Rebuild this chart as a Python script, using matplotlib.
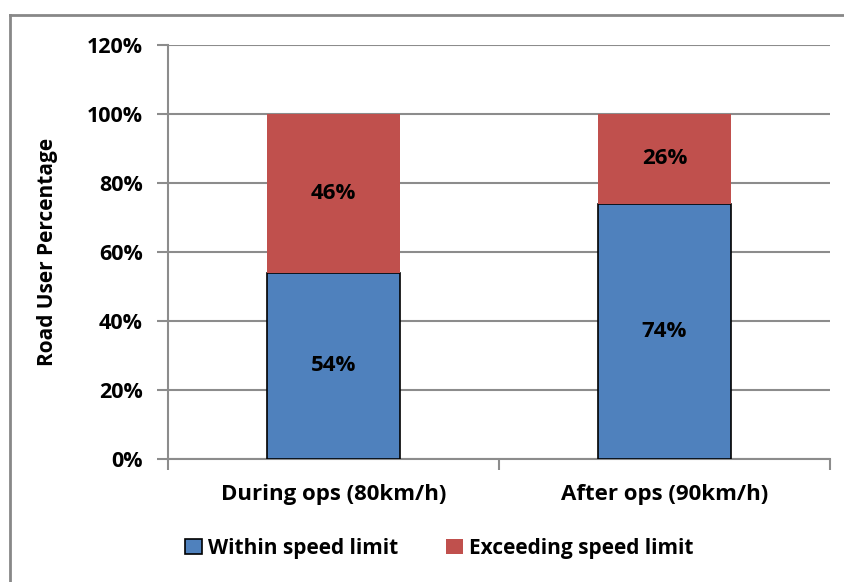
import matplotlib.pyplot as plt
from matplotlib.lines import Line2D

categories = ['During ops (80km/h)', 'After ops (90km/h)']
within = [54, 74]
exceeding = [46, 26]
yticks = [0, 20, 40, 60, 80, 100, 120]

plt.rcParams['font.family'] = ['Open Sans', 'DejaVu Sans']
plt.rcParams['font.weight'] = 'bold'

fig = plt.figure(figsize=(8.45, 5.82), dpi=100)
ax = fig.add_axes([0.1988, 0.2113, 0.9822 - 0.1988, 0.9227 - 0.2113])

grid_c = '#8c8c8c'
x = range(len(categories))
b1 = ax.bar(x, within, width=0.4, color='#4f81bd', edgecolor='black', linewidth=1.2,
            label='Within speed limit', zorder=3)
b2 = ax.bar(x, exceeding, width=0.4, bottom=within, color='#c0504d', edgecolor='none',
            label='Exceeding speed limit', zorder=3)

fs = 16
for i in x:
    ax.text(i, within[i] / 2, f'{within[i]}%', ha='center', va='center',
            fontsize=fs, fontweight='bold', zorder=4)
    ax.text(i, within[i] + exceeding[i] / 2, f'{exceeding[i]}%', ha='center', va='center',
            fontsize=fs, fontweight='bold', zorder=4)

ax.set_xlim(-0.5, 1.5)
ax.set_ylim(0, 120)
ax.set_yticks(yticks)
ax.set_yticklabels([f'{t}%' for t in yticks], fontsize=15.5, fontweight='bold')
ax.set_xticks(list(x))
ax.set_xticklabels(categories, fontsize=fs, fontweight='bold')
ax.set_xticks([-0.5, 0.5, 1.5], minor=True)
ax.tick_params(axis='x', which='major', length=0, pad=18)
ax.tick_params(axis='x', which='minor', length=8, width=1.5, color=grid_c)
ax.tick_params(axis='y', length=8, width=1.5, color=grid_c, pad=10)
ax.yaxis.grid(True, color=grid_c, linewidth=1.5, zorder=0)
ax.set_axisbelow(True)

for s in ['top', 'right']:
    ax.spines[s].set_visible(False)
for s in ['left', 'bottom']:
    ax.spines[s].set_color(grid_c)
    ax.spines[s].set_linewidth(1.5)

ax.set_ylabel('Road User Percentage', fontsize=15, fontweight='bold')
ax.yaxis.set_label_coords(-0.166, 0.5)

handles = [b1, b2]
fig.legend(handles=handles, labels=['Within speed limit', 'Exceeding speed limit'],
           loc='center', bbox_to_anchor=(0.52, 0.058), ncol=2, frameon=False,
           handlelength=0.8, handleheight=0.8, handletextpad=0.3,
           columnspacing=2.3, prop={'weight': 'bold', 'size': 15})

# chart area border (top and left visible)
fig.add_artist(Line2D([10 / 845, 1.0], [1 - 15 / 582, 1 - 15 / 582],
                      transform=fig.transFigure, color='#888888', linewidth=2))
fig.add_artist(Line2D([10 / 845, 10 / 845], [0, 1 - 15 / 582],
                      transform=fig.transFigure, color='#888888', linewidth=2))

fig.savefig('out.png', dpi=100)
